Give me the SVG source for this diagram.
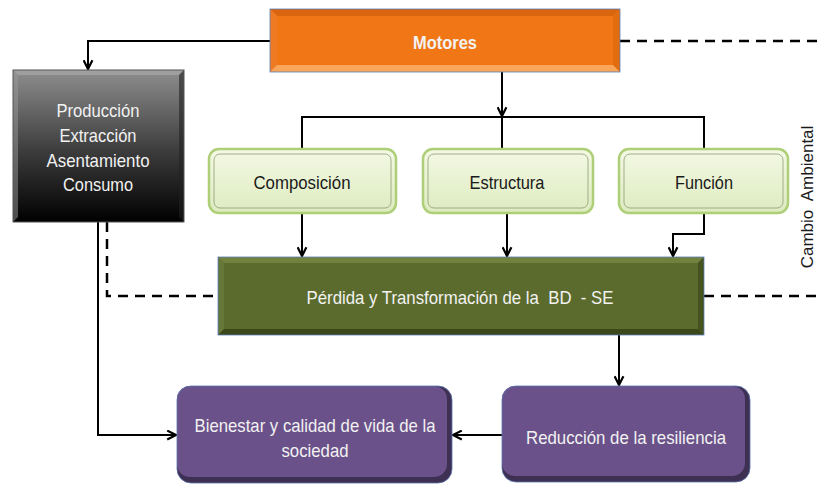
<svg xmlns="http://www.w3.org/2000/svg" width="817" height="484" viewBox="0 0 817 484">
<style>
text{font-family:"Liberation Sans",Arial,sans-serif;font-size:18.5px;text-anchor:middle}
.w{fill:#F2F2F2}
.d{fill:#1A1A1A}
.ln{fill:none;stroke:#000;stroke-width:2}
.ar{marker-end:url(#ah)}
.ds{fill:none;stroke:#000;stroke-width:2.5;stroke-dasharray:10 7}
.pg{fill:url(#pg);stroke:#AECF78;stroke-width:2.5}
.pgi{fill:none;stroke:#8E9C74;stroke-width:1;opacity:.8}
.edge{fill:none;stroke:#5A7DB8;stroke-width:.8}
</style>
<defs>
<marker id="ah" viewBox="0 0 10 10" refX="9" refY="5" markerUnits="userSpaceOnUse" markerWidth="11" markerHeight="11" orient="auto">
<path d="M1,1 L9,5 L1,9" fill="none" stroke="#000" stroke-width="2"/>
</marker>
<linearGradient id="pg" x1="0" y1="0" x2="0" y2="1">
<stop offset="0" stop-color="#F4F9E4"/>
<stop offset="1" stop-color="#DDEBC0"/>
</linearGradient>
<linearGradient id="bk" x1="0" y1="0" x2="0" y2="1">
<stop offset="0" stop-color="#8E8E8E"/>
<stop offset="0.55" stop-color="#3A3A3A"/>
<stop offset="1" stop-color="#000"/>
</linearGradient>
</defs>

<g id="connectors">
<path class="ln ar" d="M270,41 H88 V69"/>
<path class="ln ar" d="M502,72 V116"/>
<path class="ln" d="M302,149 V117 H704 V149"/>
<path class="ln" d="M502,117 V149"/>
<path class="ln ar" d="M302,213 V256"/>
<path class="ln ar" d="M507,213 V256"/>
<path class="ln ar" d="M704,213 V234 H673 V256"/>
<path class="ln ar" d="M619,335 V385"/>
<path class="ln ar" d="M502,435 H453"/>
<path class="ln ar" d="M98,222 V435 H176"/>
<path class="ds" d="M620,41 H817"/>
<path class="ds" d="M107,222 V296 H218"/>
<path class="ds" d="M704,296 H817"/>
</g>

<g id="motores">
<rect x="270" y="9" width="350" height="63" fill="#F07616"/>
<polygon points="270,9 620,9 613,16 277,16" fill="#D9660F"/>
<polygon points="270,9 277,16 277,65 270,72" fill="#EE7A24"/>
<polygon points="620,9 613,16 613,65 620,72" fill="#E26C10"/>
<polygon points="270,72 620,72 613,65 277,65" fill="#F9A55A"/>
<rect class="edge" x="270" y="9" width="350" height="63"/>
<text x="445" y="49" class="w" style="font-weight:bold;font-size:18px" textLength="64" lengthAdjust="spacingAndGlyphs">Motores</text>
</g>

<g id="produccion">
<rect x="13" y="70" width="171" height="152" fill="url(#bk)"/>
<polygon points="13,70 184,70 179,75 18,75" fill="#A8A8A8" opacity=".7"/>
<polygon points="13,70 18,75 18,217 13,222" fill="#9A9A9A" opacity=".5"/>
<polygon points="184,70 179,75 179,217 184,222" fill="#222" opacity=".6"/>
<rect x="13" y="70" width="171" height="152" fill="none" stroke="#555" stroke-width="1"/>
<text x="98" y="117" class="w" textLength="83" lengthAdjust="spacingAndGlyphs">Producción</text>
<text x="98" y="142" class="w" textLength="77" lengthAdjust="spacingAndGlyphs">Extracción</text>
<text x="98" y="167" class="w" textLength="103" lengthAdjust="spacingAndGlyphs">Asentamiento</text>
<text x="98" y="191" class="w" textLength="70" lengthAdjust="spacingAndGlyphs">Consumo</text>
</g>

<g id="composicion">
<rect class="pg" x="209" y="149" width="187" height="64" rx="10"/>
<rect class="pgi" x="214" y="154" width="177" height="54" rx="6"/>
<text x="302" y="189" class="d" textLength="97" lengthAdjust="spacingAndGlyphs">Composición</text>
</g>

<g id="estructura">
<rect class="pg" x="423" y="149" width="170" height="64" rx="10"/>
<rect class="pgi" x="428" y="154" width="160" height="54" rx="6"/>
<text x="507" y="189" class="d" textLength="75" lengthAdjust="spacingAndGlyphs">Estructura</text>
</g>

<g id="funcion">
<rect class="pg" x="619" y="149" width="169" height="64" rx="10"/>
<rect class="pgi" x="624" y="154" width="159" height="54" rx="6"/>
<text x="704" y="189" class="d" textLength="58" lengthAdjust="spacingAndGlyphs">Función</text>
</g>

<g id="perdida">
<rect x="218" y="257" width="486" height="78" fill="#5B6B2D"/>
<polygon points="218,257 704,257 698,263 224,263" fill="#71823F"/>
<polygon points="218,257 224,263 224,329 218,335" fill="#66773A"/>
<polygon points="704,257 698,263 698,329 704,335" fill="#45531F"/>
<polygon points="218,335 704,335 698,329 224,329" fill="#3C4819"/>
<rect class="edge" x="218" y="257" width="486" height="78"/>
<text x="460" y="304" class="w" style="white-space:pre" xml:space="preserve" textLength="307" lengthAdjust="spacingAndGlyphs">Pérdida y Transformación de la  BD  - SE</text>
</g>

<g id="bienestar">
<rect x="177" y="386" width="275" height="97" rx="14" fill="#3E3052"/>
<rect x="177" y="386" width="270" height="91" rx="13" fill="#6A5189"/>
<rect x="177" y="386" width="275" height="97" rx="14" fill="none" stroke="#5A74AE" stroke-width=".8"/>
<text x="315" y="432" class="w" textLength="241" lengthAdjust="spacingAndGlyphs">Bienestar y calidad de vida de la</text>
<text x="315" y="457" class="w" textLength="67" lengthAdjust="spacingAndGlyphs">sociedad</text>
</g>

<g id="reduccion">
<rect x="502" y="386" width="248" height="96" rx="14" fill="#3E3052"/>
<rect x="502" y="386" width="243" height="90" rx="13" fill="#6A5189"/>
<rect x="502" y="386" width="248" height="96" rx="14" fill="none" stroke="#5A74AE" stroke-width=".8"/>
<text x="626" y="444" class="w" textLength="200" lengthAdjust="spacingAndGlyphs">Reducción de la resiliencia</text>
</g>

<g id="cambio">
<text transform="translate(813,197) rotate(-90)" x="0" y="0" style="font-size:17px;fill:#1A1A1A;white-space:pre" xml:space="preserve">Cambio  Ambiental</text>
</g>
</svg>
